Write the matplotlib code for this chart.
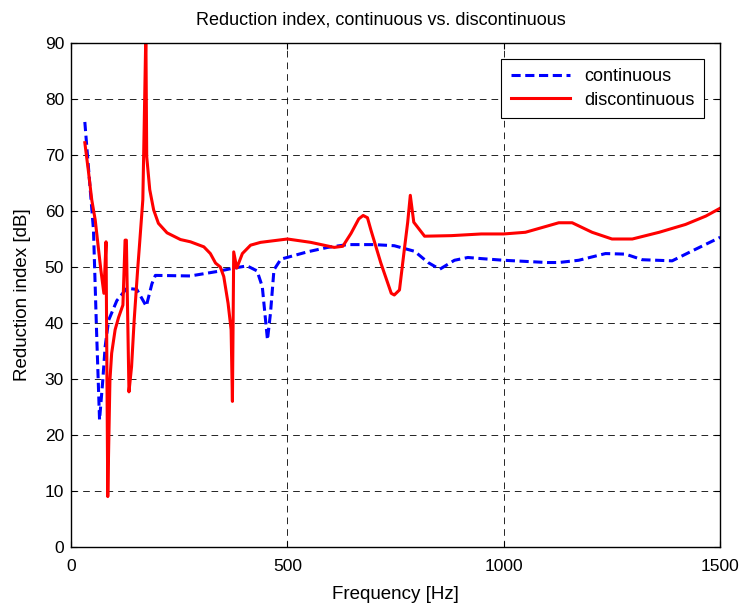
import numpy as np
import matplotlib
matplotlib.use("Agg")
import matplotlib.pyplot as plt

plt.rcParams["font.family"] = ["Liberation Sans", "DejaVu Sans"]

# ── Data ────────────────────────────────────────────────────
freq_cont = [32, 36, 52, 59, 66, 73, 79, 87, 106, 129, 152, 174, 187, 195,
             276, 338, 376, 407, 430, 442, 454, 461, 469, 485, 546, 593, 639,
             700, 747, 794, 825, 852, 886, 917, 948, 1000, 1050, 1100, 1127,
             1173, 1235, 1281, 1320, 1389, 1436, 1500]
r_cont = [75.9, 72, 56.6, 38.8, 22.7, 29.3, 35.8, 40.5, 44, 46.2, 46, 43, 47,
          48.5, 48.4, 49.2, 49.8, 50.2, 49.3, 46.5, 37, 41.8, 49.5, 51.4, 52.7,
          53.5, 54, 54, 53.8, 52.8, 50.8, 49.6, 51.2, 51.7, 51.5, 51.2, 51,
          50.8, 50.8, 51.2, 52.4, 52.3, 51.3, 51.1, 52.9, 55.3]

freq_disc = [32, 40, 48, 56, 63, 69, 76, 81, 85, 90, 94, 102, 110, 120, 125,
             128, 134, 140, 146, 154, 158, 166, 169, 173, 175, 182, 191, 202,
             222, 253, 276, 307, 322, 334, 345, 353, 363, 370, 373, 376, 383,
             396, 415, 438, 500, 554, 608, 628, 647, 665, 675, 685, 693, 716,
             740, 747, 759, 770, 778, 784, 792, 817, 879, 948, 1000, 1050,
             1100, 1127, 1158, 1204, 1250, 1297, 1359, 1420, 1467, 1500]
r_disc = [72.2, 67.3, 62, 58.4, 53.6, 49.5, 45.3, 54.5, 9, 29.8, 34.6, 38.8,
          41, 43.2, 54.8, 54.8, 27.7, 32.2, 40.5, 49.5, 53.6, 62, 74.5, 92,
          69.7, 63.8, 60.2, 57.8, 56.1, 54.9, 54.5, 53.6, 52.4, 50.7, 50,
          48.3, 43.5, 38.8, 26, 52.7, 49.8, 52.4, 53.9, 54.4, 55, 54.4, 53.5,
          53.7, 56, 58.6, 59.2, 58.8, 56.6, 50.7, 45.3, 45, 45.9, 53, 58,
          62.8, 58, 55.5, 55.6, 55.9, 55.9, 56.2, 57.3, 57.9, 57.9, 56.2,
          55, 55, 56.2, 57.6, 59.1, 60.5]

# ── Figure ──────────────────────────────────────────────────
fig = plt.figure(figsize=(7.44, 6.10), dpi=100)
ax = fig.add_axes([0.0954, 0.1033, 0.8726, 0.8262])

ax.plot(freq_cont, r_cont, color="#0000ff", linestyle="--", linewidth=2.2,
        dashes=(3, 1.5), label="continuous")
ax.plot(freq_disc, r_disc, color="#ff0000", linewidth=2.2,
        label="discontinuous")

ax.set_xlim(0, 1500)
ax.set_ylim(0, 90)
ax.set_xticks([0, 500, 1000, 1500])
ax.set_yticks(np.arange(0, 91, 10))
ax.tick_params(direction="in", top=True, right=True, labelsize=12.5,
               length=4)
ax.tick_params(axis="x", pad=9)
ax.tick_params(axis="y", pad=5)
ax.grid(True, color="k", linestyle=(0, (8, 6)), linewidth=0.6)
for s in ax.spines.values():
    s.set_linewidth(1.0)

ax.set_title("Reduction index, continuous vs. discontinuous", fontsize=13,
             pad=13, x=0.477)
ax.set_xlabel("Frequency [Hz]", fontsize=13.5, labelpad=8)
ax.set_ylabel("Reduction index [dB]", fontsize=13.5, labelpad=10)

leg = ax.legend(loc="upper right", fontsize=13, fancybox=False,
                framealpha=1, edgecolor="k", borderaxespad=0.9,
                handlelength=3.3, labelspacing=0.35, borderpad=0.5)
leg.get_frame().set_linewidth(0.8)

fig.savefig("out.png", dpi=100)
